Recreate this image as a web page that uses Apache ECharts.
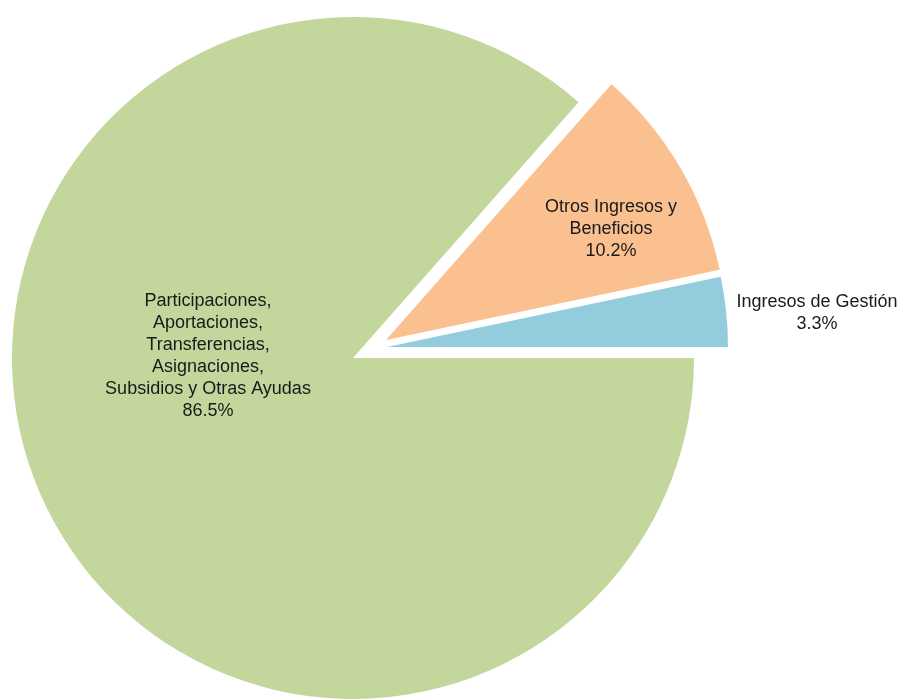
<!DOCTYPE html>
<html>
<head>
<meta charset="utf-8">
<script src="https://cdn.jsdelivr.net/npm/echarts@6/dist/echarts.min.js"></script>
<style>html,body{margin:0;padding:0;background:#fff;}#chart{width:903px;height:700px;}</style>
</head>
<body>
<div id="chart"></div>
<script>
// Data (order: counter-clockwise from 3 o'clock)
const categories = ["Ingresos de Gestión", "Otros Ingresos y Beneficios", "Participaciones, Aportaciones, Transferencias, Asignaciones, Subsidios y Otras Ayudas"];
const labelLines = ["Ingresos de Gestión", "Otros Ingresos y\nBeneficios", "Participaciones,\nAportaciones,\nTransferencias,\nAsignaciones,\nSubsidios y Otras Ayudas"];
const values = [3.3, 10.2, 86.5];
const colors = ["#93CDDD", "#FAC090", "#C3D69B"];

// Layout (kept separate from data)
const sliceCenters = [[387, 347], [386, 340], [353, 358]];
const labelPositions = [[817, 313], [611, 229], [208, 356]];
const radius = 341;

const chart = echarts.init(document.getElementById('chart'));

const series = values.map(function (_, vis) {
  return {
    type: 'pie',
    silent: true,
    animation: false,
    center: sliceCenters[vis],
    radius: [0, radius],
    startAngle: 0,
    clockwise: false,
    avoidLabelOverlap: false,
    labelLine: { show: false },
    data: categories.map(function (name, i) {
      return {
        name: name,
        value: values[i],
        itemStyle: { color: i === vis ? colors[i] : 'rgba(0,0,0,0)' },
        label: {
          show: i === vis,
          position: 'inside',
          formatter: function () { return labelLines[i] + '\n' + values[i].toFixed(1) + '%'; },
          color: '#1a1a1a',
          fontFamily: 'Liberation Sans, Arial, sans-serif',
          fontSize: 18,
          lineHeight: 22,
          align: 'center'
        }
      };
    }),
    labelLayout: function (params) {
      if (params.dataIndex !== vis) return {};
      return { x: labelPositions[vis][0], y: labelPositions[vis][1], align: 'center', verticalAlign: 'middle' };
    }
  };
});

chart.setOption({ backgroundColor: '#ffffff', animation: false, series: series });
</script>
</body>
</html>
